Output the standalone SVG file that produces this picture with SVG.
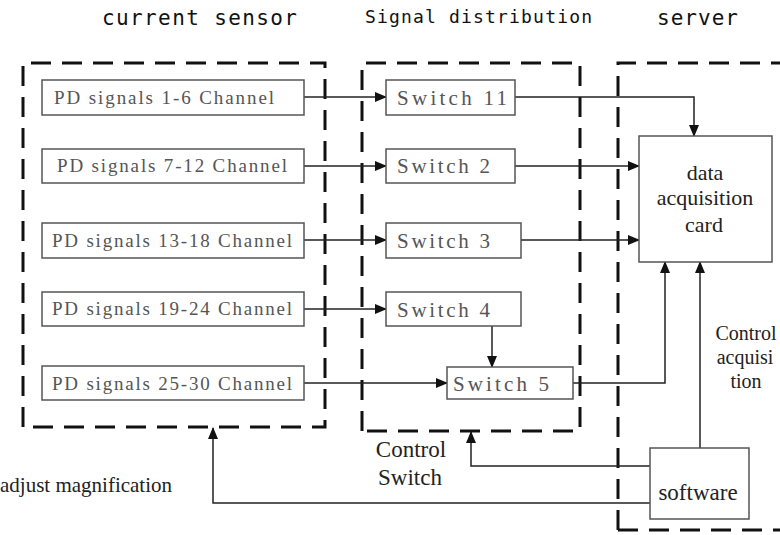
<svg xmlns="http://www.w3.org/2000/svg" width="780" height="535" viewBox="0 0 780 535">
<style>
.bg{fill:#fff}
.dash{fill:none;stroke:#111;stroke-width:3;stroke-dasharray:20 11}
.box{fill:#fff;stroke:#555;stroke-width:1.5}
.hd{font-family:"DejaVu Sans Mono",monospace;fill:#111}
.pd{font-family:"Liberation Serif",serif;font-size:19px;fill:#555}
.sw{font-family:"Liberation Serif",serif;font-size:21px;fill:#555}
.lb{font-family:"Liberation Serif",serif;fill:#222}
.ln{fill:none;stroke:#222;stroke-width:1.5}
</style>
<defs>
<marker id="ah" markerWidth="12" markerHeight="10" refX="11" refY="5" orient="auto" markerUnits="userSpaceOnUse">
<path d="M0,0 L12,5 L0,10 Z" fill="#111"/>
</marker>
</defs>
<rect class="bg" x="0" y="0" width="780" height="535"/>

<g id="headers">
<text class="hd" x="102" y="25" font-size="21" textLength="195" lengthAdjust="spacing">current sensor</text>
<text class="hd" x="365" y="23" font-size="18" textLength="227" lengthAdjust="spacing">Signal distribution</text>
<text class="hd" x="657" y="25" font-size="21" textLength="81" lengthAdjust="spacing">server</text>
</g>

<g id="groups">
<path class="dash" d="M23,427 V63 H325 V427 Z"/>
<path class="dash" d="M362,431 V63 H580 V431 Z"/>
<path class="dash" d="M618,530 V63 H790 M618,530 H790"/>
</g>

<g id="connectors">
<path class="ln" d="M304,97 H386" marker-end="url(#ah)"/>
<path class="ln" d="M304,166 H386" marker-end="url(#ah)"/>
<path class="ln" d="M304,240 H386" marker-end="url(#ah)"/>
<path class="ln" d="M304,309 H386" marker-end="url(#ah)"/>
<path class="ln" d="M304,383 H447" marker-end="url(#ah)"/>
<path class="ln" d="M492,326 V367" marker-end="url(#ah)"/>
<path class="ln" d="M515,97 H694 V136" marker-end="url(#ah)"/>
<path class="ln" d="M515,166 H639" marker-end="url(#ah)"/>
<path class="ln" d="M521,240 H639" marker-end="url(#ah)"/>
<path class="ln" d="M573,383 H665 V262" marker-end="url(#ah)"/>
<path class="ln" d="M700,448 V262" marker-end="url(#ah)"/>
<path class="ln" d="M650,466 H471 V432" marker-end="url(#ah)"/>
<path class="ln" d="M650,503 H213 V428" marker-end="url(#ah)"/>
</g>

<g id="pd1"><rect class="box" x="42" y="80" width="262" height="35"/><text class="pd" x="54" y="104" textLength="220" lengthAdjust="spacing">PD signals 1-6 Channel</text></g>
<g id="pd2"><rect class="box" x="42" y="149" width="262" height="34"/><text class="pd" x="57" y="172" textLength="230" lengthAdjust="spacing">PD signals 7-12 Channel</text></g>
<g id="pd3"><rect class="box" x="42" y="223" width="262" height="35"/><text class="pd" x="52" y="247" textLength="240" lengthAdjust="spacing">PD signals 13-18 Channel</text></g>
<g id="pd4"><rect class="box" x="42" y="292" width="262" height="34"/><text class="pd" x="52" y="315" textLength="240" lengthAdjust="spacing">PD signals 19-24 Channel</text></g>
<g id="pd5"><rect class="box" x="42" y="366" width="262" height="34"/><text class="pd" x="52" y="390" textLength="240" lengthAdjust="spacing">PD signals 25-30 Channel</text></g>

<g id="sw11"><rect class="box" x="386" y="80" width="129" height="35"/><text class="sw" x="397" y="105" textLength="110" lengthAdjust="spacing">Switch 11</text></g>
<g id="sw2"><rect class="box" x="386" y="149" width="129" height="34"/><text class="sw" x="397" y="173" textLength="93" lengthAdjust="spacing">Switch 2</text></g>
<g id="sw3"><rect class="box" x="386" y="223" width="135" height="35"/><text class="sw" x="397" y="248" textLength="93" lengthAdjust="spacing">Switch 3</text></g>
<g id="sw4"><rect class="box" x="386" y="292" width="135" height="34"/><text class="sw" x="397" y="317" textLength="93" lengthAdjust="spacing">Switch 4</text></g>
<g id="sw5"><rect class="box" x="447" y="367" width="126" height="32"/><text class="sw" x="453" y="391" textLength="96" lengthAdjust="spacing">Switch 5</text></g>

<g id="daq"><rect class="box" x="639" y="136" width="133" height="126"/>
<text class="lb" x="705" y="180" text-anchor="middle" font-size="22">data</text>
<text class="lb" x="705" y="205" text-anchor="middle" font-size="22">acquisition</text>
<text class="lb" x="704" y="232" text-anchor="middle" font-size="22">card</text>
</g>

<g id="software"><rect class="box" x="650" y="448" width="99" height="71"/>
<text class="lb" x="698" y="500" text-anchor="middle" font-size="23">software</text>
</g>

<g id="labels">
<text class="lb" x="746" y="340" text-anchor="middle" font-size="20">Control</text>
<text class="lb" x="745" y="364" text-anchor="middle" font-size="20">acquisi</text>
<text class="lb" x="746" y="388" text-anchor="middle" font-size="20">tion</text>
<text class="lb" x="411" y="457" text-anchor="middle" font-size="23">Control</text>
<text class="lb" x="410" y="485" text-anchor="middle" font-size="23">Switch</text>
<text class="lb" x="0" y="492" font-size="21">adjust magnification</text>
</g>
</svg>
